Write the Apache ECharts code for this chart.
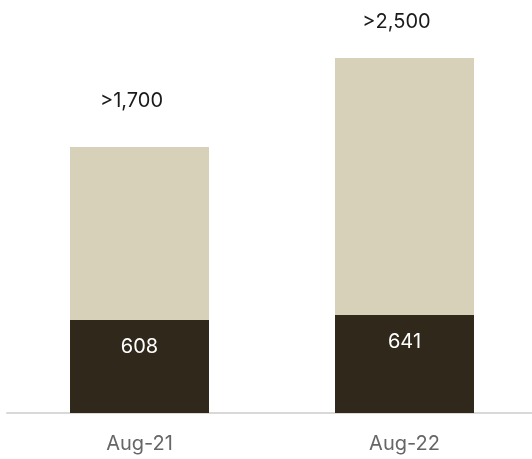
<!DOCTYPE html>
<html>
<head>
<meta charset="utf-8">
<script src="https://cdn.jsdelivr.net/npm/echarts@6/dist/echarts.min.js"></script>
<style>
  html, body { margin: 0; padding: 0; background: #ffffff; overflow: hidden; }
  /* canvas runs a few pixels past the right edge so the axis line bleeds off */
  #chart { width: 537px; height: 459px; }
</style>
</head>
<body>
<div id="chart"></div>
<script>
// Categories and series values
const categories = ['Aug-21', 'Aug-22'];
const baseValues = [608, 641];
const upperValues = [1131, 1680];
const totalLabels = ['>1,700', '>2,500'];

// Label spacing above each bar (styling, not data)
const totalLabelGap = [36, 26];

const FONT = 'Inter, "Open Sans", sans-serif';
const DARK = '#30281b';
const BEIGE = '#d8d1ba';

const chart = echarts.init(document.getElementById('chart'), null, { renderer: 'canvas' });

const upperData = upperValues.map((v, i) => ({
  value: v,
  label: {
    show: true,
    position: 'top',
    distance: totalLabelGap[i],
    offset: [-8, 0],
    formatter: totalLabels[i],
    color: '#1a1a1a',
    fontSize: 20,
    fontFamily: FONT
  }
}));

chart.setOption({
  animation: false,
  grid: { left: 7, right: 0, top: 0, bottom: 46, containLabel: false },
  xAxis: {
    type: 'category',
    data: categories,
    axisLine: { show: true, lineStyle: { color: '#d9d9d9', width: 2 } },
    axisTick: { show: false },
    axisLabel: { color: '#666666', fontSize: 20, fontFamily: FONT, margin: 21 }
  },
  yAxis: {
    type: 'value',
    min: 0,
    max: 2700,
    show: false,
    splitLine: { show: false }
  },
  series: [
    {
      name: 'base',
      type: 'bar',
      stack: 'total',
      barWidth: 139,
      data: baseValues,
      itemStyle: { color: DARK },
      label: {
        show: true,
        position: 'insideTop',
        distance: 17,
        color: '#ffffff',
        fontSize: 20,
        fontFamily: FONT
      }
    },
    {
      name: 'upper',
      type: 'bar',
      stack: 'total',
      barWidth: 139,
      data: upperData,
      itemStyle: { color: BEIGE }
    }
  ]
});
</script>
</body>
</html>
